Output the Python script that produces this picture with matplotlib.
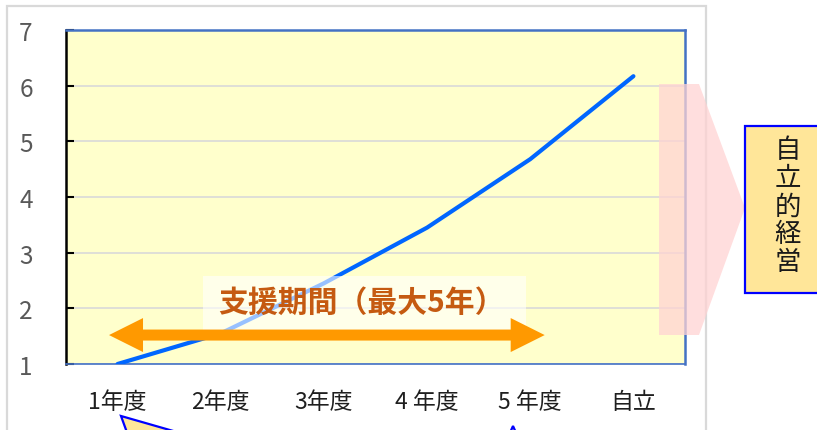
import matplotlib
matplotlib.use("Agg")
import matplotlib.pyplot as plt
from matplotlib.patches import Polygon, Rectangle

plt.rcParams['font.family'] = ['Noto Sans CJK JP', 'DejaVu Sans']

# data
years = ['1年度', '2年度', '3年度', '4 年度', '5 年度', '自立']
growth = [1.0, 1.55, 2.45, 3.45, 4.68, 6.17]
y_ticks = [1, 2, 3, 4, 5, 6, 7]
support_label = '支援期間（最大5年）'
goal_chars = ['自', '立', '的', '経', '営']

W, H = 817, 431
fig = plt.figure(figsize=(W / 100, H / 100), dpi=100)


def fx(px):
    return px / W


def fy(py):
    return (H - py) / H


ax = fig.add_axes([fx(66), fy(365), (685 - 66) / W, (365 - 31) / H])
ax.set_facecolor('#FFFFCC')

x = list(range(len(years)))
ax.plot(x, growth, color='#0066FF', lw=3, solid_capstyle='round', zorder=3)

ax.set_xlim(-0.5, len(years) - 0.5)
ax.set_ylim(1, 7)
ax.set_yticks(y_ticks)
ax.set_xticks(x)
ax.set_xticklabels(years, fontsize=16.5, color='#1f1f1f')
ax.set_yticklabels([str(v) for v in y_ticks], fontsize=17.5, color='#595959')
ax.tick_params(axis='x', length=0, pad=19)
ax.tick_params(axis='y', direction='in', length=6, width=1.5, color='black', pad=24)
ax.grid(axis='y', color='#D9D9D9', lw=1.2, zorder=0)
ax.set_axisbelow(True)

ax.spines['left'].set_color('black')
ax.spines['left'].set_linewidth(1.8)
for s in ['top', 'right']:
    ax.spines[s].set_color('#4472C4')
    ax.spines[s].set_linewidth(1.8)
ax.spines['bottom'].set_color('#4472C4')
ax.spines['bottom'].set_linewidth(1.2)

# orange double arrow (support period), drawn in pixel space from data ends
fig.canvas.draw()
x0, yc = ax.transData.transform((-0.083, 1.52))
x1, _ = ax.transData.transform((4.14, 1.52))
hl, hw, sw = 34, 17, 5.5
arrow = [(x0, yc), (x0 + hl, yc + hw), (x0 + hl, yc + sw), (x1 - hl, yc + sw),
         (x1 - hl, yc + hw), (x1, yc), (x1 - hl, yc - hw), (x1 - hl, yc - sw),
         (x0 + hl, yc - sw), (x0 + hl, yc - hw)]
fig.patches.append(Polygon(arrow, closed=True, transform=None, facecolor='#FF9900',
                           edgecolor='none', zorder=4))

# translucent label box
ax.add_patch(Rectangle((0.827, 1.593), 3.957 - 0.827, 2.581 - 1.593,
                       facecolor='white', alpha=0.6, edgecolor='none', zorder=5,
                       clip_on=False))
ax.text(2.36, 2.12, support_label, fontsize=21.5, fontweight='bold', color='#C55A11',
        ha='center', va='center', zorder=6)

# pink pentagon arrow on the right
pent = [(659, 85), (699, 85), (745, 209), (699, 336), (659, 336)]
fig.patches.append(Polygon([(fx(a), fy(b)) for a, b in pent], closed=True,
                           transform=fig.transFigure, facecolor='#FFD3D3',
                           alpha=0.75, edgecolor='none', zorder=5))

# goal box
fig.patches.append(Rectangle((fx(745), fy(294)), fx(830) - fx(745), fy(127) - fy(294),
                             transform=fig.transFigure, facecolor='#FFE699',
                             edgecolor='#0000FF', lw=1.6, zorder=6))
for i, ch in enumerate(goal_chars):
    fig.text(fx(788), fy(151 + i * 28), ch, fontsize=19, color='#1a1a1a',
             ha='center', va='center', zorder=7)

# outer chart border
fig.patches.append(Rectangle((fx(7), fy(445)), fx(706) - fx(7), fy(7) - fy(445),
                             transform=fig.transFigure, facecolor='none',
                             edgecolor='#D9D9D9', lw=1.6, zorder=1))

# callout tips peeking in at the bottom
for tri in ([(121, 417), (133, 450), (236, 450)], [(513, 427), (505, 445), (521, 445)]):
    fig.patches.append(Polygon([(fx(a), fy(b)) for a, b in tri], closed=True,
                               transform=fig.transFigure, facecolor='#FFE699',
                               edgecolor='#0000FF', lw=1.6, zorder=6))

fig.savefig('out.png', dpi=100)
